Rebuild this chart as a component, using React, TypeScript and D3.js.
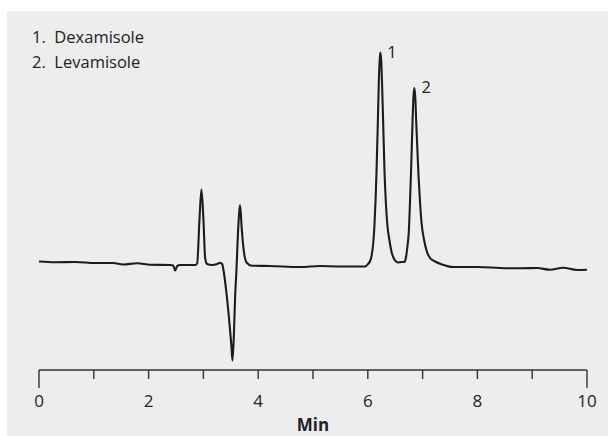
import React from 'react';
import * as d3 from 'd3';

const WIDTH = 608;
const HEIGHT = 436;
const MARGIN = { top: 11, right: 21, bottom: 66, left: 39 };

// retention time (min) and detector response (arbitrary units)
const times = [
  0.0, 0.3, 0.66, 1.025, 1.354, 1.536, 1.791, 2.028, 2.393, 2.448, 2.485, 2.521, 2.576, 2.849, 2.886,
  2.928, 2.964, 3.001, 3.032, 3.068, 3.159, 3.251, 3.305, 3.342, 3.366, 3.428, 3.475, 3.512, 3.53,
  3.555, 3.579, 3.603, 3.628, 3.657, 3.67, 3.701, 3.743, 3.792, 3.884, 4.217, 4.765, 5.13, 5.494,
  5.95, 6.005, 6.042, 6.069, 6.096, 6.12, 6.142, 6.16, 6.182, 6.202, 6.217, 6.229, 6.244, 6.261,
  6.284, 6.306, 6.33, 6.357, 6.394, 6.434, 6.48, 6.516, 6.558, 6.607, 6.669, 6.698, 6.726, 6.748,
  6.768, 6.79, 6.817, 6.835, 6.85, 6.866, 6.886, 6.923, 6.954, 6.981, 7.027, 7.081, 7.136, 7.227,
  7.355, 7.556, 8.012, 8.413, 8.778, 9.088, 9.325, 9.562, 9.818, 10.0
];
const response = [
  3.5, 2.7, 3, 2, 2, 0.5, 1.7, 0.3, 0, -0.5, -5.5, -1, 0, 0, 1.5,
  45, 75.5, 45, 7, 1, 0, 1, 2.3, 1, -5, -31.7, -58, -81.7, -95.5,
  -71.7, -31.7, -5, 28.3, 55, 59.7, 35, 11.7, 2.3, -0.7, -1, -2, -1, -1.5,
  -1.5, 1, 4, 9, 20, 38, 65, 95, 140, 185, 205, 212.5, 205, 180,
  135, 92, 62, 40, 25, 13, 6, 3.5, 2.5, 3, 3, 8, 20, 33,
  60, 95, 145, 170, 177, 168, 140, 92, 62, 42, 25, 13, 7, 3.5,
  0.5, -2, -2, -3, -3.3, -3, -4.7, -2.7, -5, -4.7
];

const peakNames = ['1.  Dexamisole', '2.  Levamisole'];
const peakLabels = ['1', '2'];
const peakTimes = [6.229, 6.85];
const peakHeights = [212.5, 177];
const tickValues = d3.range(0, 11, 1);

const FONT = '"Open Sans", "Noto Sans", sans-serif';

export default function App() {
  const innerW = WIDTH - MARGIN.left - MARGIN.right;
  const innerH = HEIGHT - MARGIN.top - MARGIN.bottom;

  const x = d3.scaleLinear().domain([0, 10]).range([0, innerW]);
  const y = d3.scaleLinear().domain([-105, 254]).range([innerH, 0]);

  const line = d3.line<number>()
    .x((_, i) => x(times[i]))
    .y((d) => y(d))
    .curve(d3.curveMonotoneX);

  return <svg width={WIDTH} height={HEIGHT} style={{ position: 'fixed', left: 0, top: 0, fontFamily: FONT }}>
    <rect x={7} y={11} width={WIDTH - 7} height={HEIGHT - 11} fill='#ededed' />
    <g transform={`translate(${MARGIN.left},${MARGIN.top})`}>
      <path d={line(response) || ''} fill='none' stroke='#1c1c1c' strokeWidth={2.1} strokeLinejoin='round' />
      {peakLabels.map((l, i) =>
        <text key={l} x={x(peakTimes[i]) + 7} y={y(peakHeights[i]) + 5} fontSize={16.5} fill='#222'>{l}</text>
      )}
      <g transform={`translate(0,${innerH})`}>
        <line x1={0} x2={innerW} y1={0} y2={0} stroke='#333' strokeWidth={1.4} />
        {tickValues.map((t) => {
          const end = t === 0 || t === 10;
          return <g key={t} transform={`translate(${x(t)},0)`}>
            <line y1={0} y2={end ? 18 : 9} stroke='#333' strokeWidth={1.4} />
            {t % 2 === 0 ? <text y={36.5} textAnchor='middle' fontSize={17} fill='#222'>{t}</text> : null}
          </g>;
        })}
        <text x={innerW / 2} y={61} textAnchor='middle' fontSize={17} fontWeight='bold' fill='#222'>Min</text>
      </g>
    </g>
    {peakNames.map((n, i) =>
      <text key={n} x={32} y={42.7 + i * 25.6} fontSize={16.5} fill='#222' style={{ whiteSpace: 'pre' }}>{n}</text>
    )}
  </svg>;
}
